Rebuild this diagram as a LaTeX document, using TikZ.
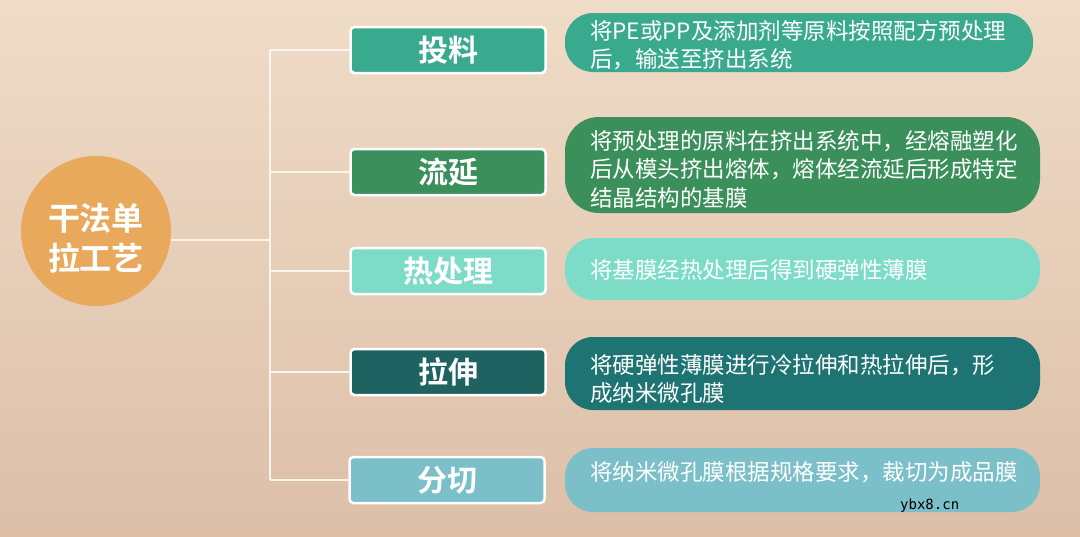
\documentclass[tikz,border=0pt]{standalone}
\usepackage{fontspec}
\newfontfamily\cjk{Noto Sans CJK SC}
\newfontfamily\cjkb{Noto Sans CJK SC Bold}
\newfontfamily\wmfont{DejaVu Sans Mono}
\definecolor{bgA}{HTML}{EFDCC7}
\definecolor{bgB}{HTML}{DDBFA8}
\definecolor{circ}{HTML}{E8A95C}
\definecolor{cA}{HTML}{3AAA8E}
\definecolor{cB}{HTML}{3A8F5A}
\definecolor{cC}{HTML}{7DDCC8}
\definecolor{cD}{HTML}{1F6262}
\definecolor{cDd}{HTML}{1E7373}
\definecolor{cE}{HTML}{7BBFC8}
\definecolor{linec}{HTML}{FBF4EC}
\tikzset{
  labelbox/.style={draw=white, line width=2.5pt, rounded corners=4pt, minimum width=195pt, minimum height=46pt, inner sep=0pt, text=white, font=\cjkb\fontsize{30}{32}\selectfont},
  descbox/.style={rounded corners=28pt, minimum width=475pt, inner sep=0pt},
  desctext/.style={anchor=west, text=white, align=left, inner sep=0pt, font=\cjk\fontsize{22.5}{28.5}\selectfont},
  conn/.style={draw=linec, line width=1.8pt}
}
\begin{document}
\begin{tikzpicture}[x=1pt,y=-1pt]
\shade[top color=bgA, bottom color=bgB] (0,0) rectangle (1080,536);
\useasboundingbox (0,0) rectangle (1080,536);
% circle
\node[circle, fill=circ, minimum size=150pt, inner sep=0pt] (root) at (96,231) {};
\node[text=white, align=center, font=\cjkb\fontsize{32}{40}\selectfont] (roottxt) at (96,238) {干法单\\拉工艺};
% label boxes
\node[labelbox, fill=cA] (b1) at (448,50) {投料};
\node[labelbox, fill=cB] (b2) at (448,172) {流延};
\node[labelbox, fill=cC] (b3) at (448,271) {热处理};
\node[labelbox, fill=cD] (b4) at (448,372) {拉伸};
\node[labelbox, fill=cE] (b5) at (447,480) {分切};
% connectors
\coordinate (jt) at (270,50);
\coordinate (jb) at (270,480);
\coordinate (jm) at (270,240);
\draw[conn] (jt) -- (jb);
\draw[conn] (root.east |- jm) -- (jm);
\draw[conn] (jt) -- (b1.west);
\draw[conn] (270,172) -- (b2.west);
\draw[conn] (270,271) -- (b3.west);
\draw[conn] (270,372) -- (b4.west);
\draw[conn] (jb) -- (b5.west);
% description pills
\node[descbox, fill=cA, minimum width=468pt, minimum height=59pt] (d1) at (799,42.5) {};
\node[descbox, fill=cB, minimum height=96pt, rounded corners=34pt] (d2) at (802.5,165) {};
\node[descbox, fill=cC, minimum height=62pt] (d3) at (802.5,269) {};
\node[descbox, fill=cDd, minimum height=73pt] (d4) at (802.5,373.5) {};
\node[descbox, fill=cE, minimum height=64pt] (d5) at (802.5,480) {};
\node[desctext] (t1) at (590,45) {将PE或PP及添加剂等原料按照配方预处理\\后，输送至挤出系统};
\node[desctext] (t2) at (590,169) {将预处理的原料在挤出系统中，经熔融塑化\\后从模头挤出熔体，熔体经流延后形成特定\\结晶结构的基膜};
\node[desctext] (t3) at (590,270) {将基膜经热处理后得到硬弹性薄膜};
\node[desctext] (t4) at (590,379) {将硬弹性薄膜进行冷拉伸和热拉伸后，形\\成纳米微孔膜};
\node[desctext] (t5) at (590,472) {将纳米微孔膜根据规格要求，裁切为成品膜};
\node[anchor=west, inner sep=0pt, font=\wmfont\fontsize{14}{14}\selectfont] (wm) at (900,506) {ybx8.cn};
\end{tikzpicture}
\end{document}
